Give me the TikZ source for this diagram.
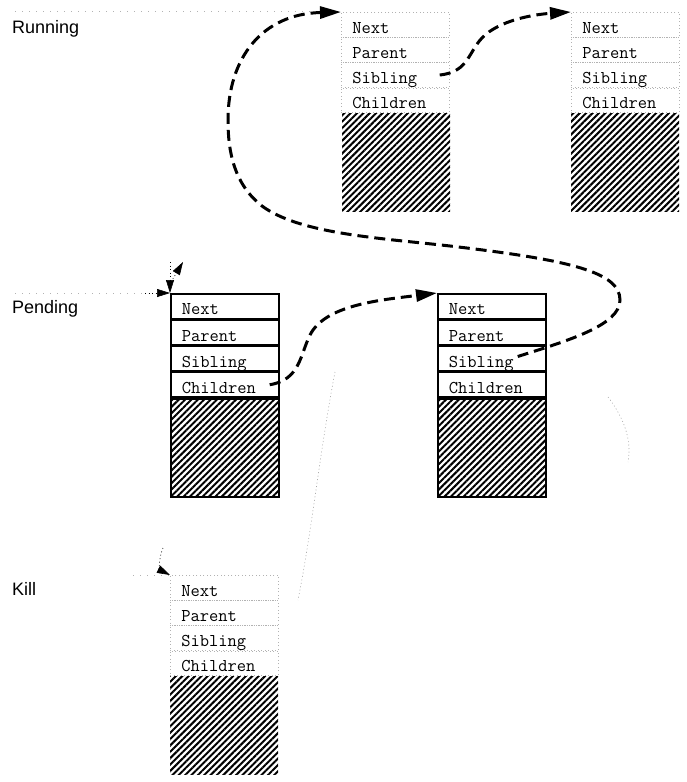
\documentclass[tikz,border=0pt]{standalone}
\usepackage{fontspec}
\setmainfont{Liberation Sans}
\usetikzlibrary{arrows.meta,patterns.meta,calc}
\newcommand\membox[5]{%
  \node[row,#4,anchor=north west] (#1n) at (#2,#3) {Next};
  \node[row,#4,anchor=north west] (#1p) at (#1n.south west) {Parent};
  \node[row,#4,anchor=north west] (#1s) at (#1p.south west) {Sibling};
  \node[row,#4,anchor=north west] (#1c) at (#1s.south west) {Children};
  \node[body,#5,anchor=north west] (#1b) at (#1c.south west) {};
}
\tikzset{
  row/.style={rectangle, inner xsep=11pt, inner ysep=0pt, text width=86pt,
    align=left, minimum height=24.5pt, text height=19pt, text depth=1.5pt,
    font=\ttfamily\fontsize{18}{18}\selectfont},
  solidrow/.style={draw=black, line width=1.7pt},
  faintrow/.style={draw=gray!60, line width=0.7pt, dash pattern=on 1pt off 2.5pt},
  body/.style={rectangle, inner sep=0pt, minimum width=108pt, minimum height=98pt,
    pattern={Lines[angle=45,distance=4.5pt,line width=2pt]}},
  solidbody/.style={draw=black, line width=1.7pt},
  faintbody/.style={},
  lbl/.style={font=\fontsize{18}{18}\selectfont, anchor=base west, inner sep=0pt},
  bigdash/.style={line width=3pt, dash pattern=on 11pt off 6pt,
    -{Triangle[length=21pt,width=12pt]}},
  faint/.style={gray!70, line width=0.6pt, dash pattern=on 1pt off 2.5pt},
  faintdot/.style={gray!60, line width=0.6pt, dash pattern=on 1pt off 6pt},
  smalltip/.style={-{Triangle[length=13pt,width=8pt]}},
}
\begin{document}
\begin{tikzpicture}[x=1pt,y=-1pt]
\useasboundingbox (0,0) rectangle (686,782);

% labels
\node[lbl] (lrun) at (12,33) {Running};
\node[lbl] (lpend) at (12,313) {Pending};
\node[lbl] (lkill) at (12,595) {Kill};

% boxes
\membox{ra}{341}{12}{faintrow}{faintbody}
\membox{rb}{571}{12}{faintrow}{faintbody}
\membox{pa}{170}{293}{solidrow}{solidbody}
\membox{pb}{437}{293}{solidrow}{solidbody}
\membox{ka}{170}{575}{faintrow}{faintbody}

% faint guide lines
\coordinate (runstart) at (15,11);
\draw[faintdot] (runstart) -- (ran.north west |- runstart);
\coordinate (pendstart) at (15,293);
\coordinate (pendmid) at ($(pan.north west)+(-25,0)$);
\draw[faintdot] (pendstart) -- (pendmid);
\draw[faint, smalltip, black] (pendmid) -- (pan.north west);
\coordinate (pendtop) at (170,262);
\draw[faint, smalltip, black] (pendtop) -- (pan.north west);
\coordinate (pendflagA) at (171,282);
\coordinate (pendflagB) at (183,262);
\draw[faint, smalltip, black] (pendflagA) -- (pendflagB);
\coordinate (killstart) at (133,575);
\draw[faintdot] (killstart) -- (kan.north west);
\coordinate (killtop) at (163,548);
\draw[faint, smalltip, black] (killtop) .. controls (158,560) and (160,570) .. (kan.north west);
\coordinate (midA) at (335,372);
\coordinate (midB) at (298,600);
\draw[faint] (midA) .. controls (320,450) and (312,530) .. (midB);
\coordinate (rgtA) at (608,397);
\coordinate (rgtB) at (628,462);
\draw[faint] (rgtA) .. controls (624,418) and (632,440) .. (rgtB);

% thick dashed connectors
\coordinate (s1) at ($(pbs.east)+(-29,-2)$);
\draw[bigdash] (s1) .. controls (570,340) and (620,325) .. (620,300)
  .. controls (620,272) and (570,260) .. (450,246)
  .. controls (380,238) and (300,234) .. (262,206)
  .. controls (234,184) and (228,152) .. (228,120)
  .. controls (228,58) and (262,14) .. (ran.north west);
\coordinate (s2) at ($(ras.east)+(-10,0)$);
\draw[bigdash] (s2) .. controls (470,72) and (468,50) .. (485,35)
  .. controls (505,18) and (540,14) .. (rbn.north west);
\coordinate (s3) at ($(pac.east)+(-10,0)$);
\draw[bigdash] (s3) .. controls (300,380) and (300,355) .. (310,335)
  .. controls (325,305) and (380,300) .. (pbn.north west);
\end{tikzpicture}
\end{document}
